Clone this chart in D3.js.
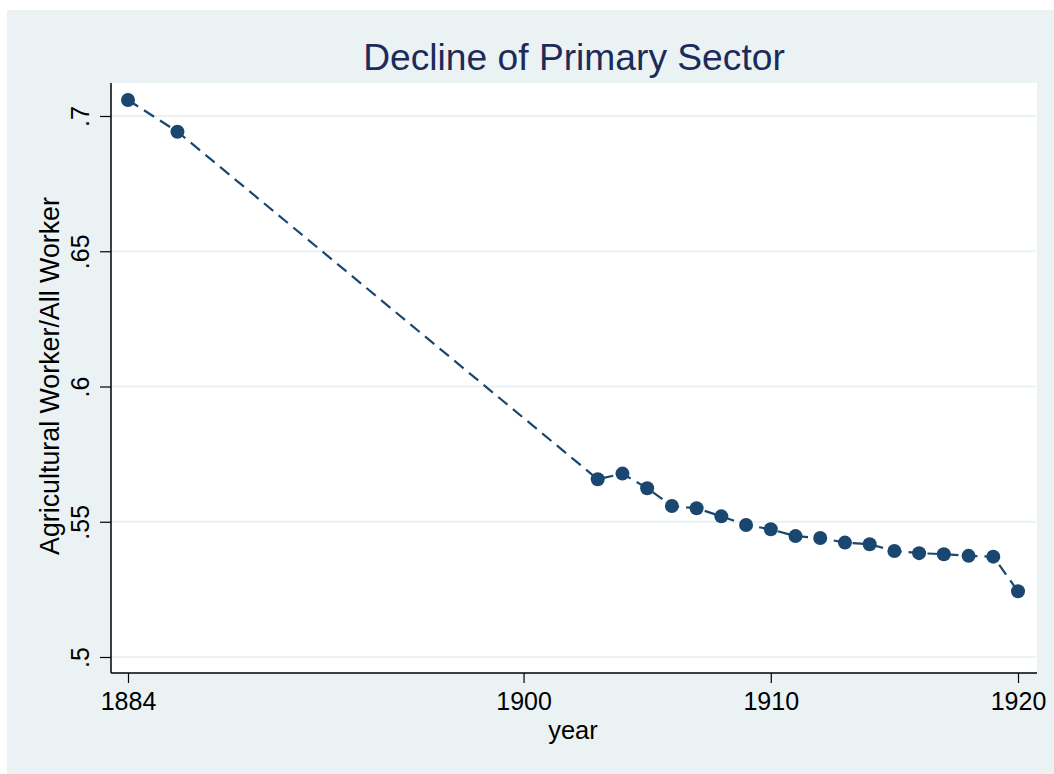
<!DOCTYPE html>
<html>
<head>
<meta charset="utf-8">
<script src="https://d3js.org/d3.v7.min.js"></script>
<style>
  body { margin: 0; background: #fff; }
  text { font-family: "Liberation Sans", Arial, Helvetica, sans-serif; }
</style>
</head>
<body>
<svg id="chart" width="1054" height="774"></svg>
<script>
// share of agricultural workers in all workers
var years = [1884, 1886, 1903, 1904, 1905, 1906, 1907, 1908, 1909, 1910,
             1911, 1912, 1913, 1914, 1915, 1916, 1917, 1918, 1919, 1920];
var share = [0.7059, 0.6942, 0.5657, 0.5678, 0.5624, 0.5558, 0.5550, 0.5520, 0.5488, 0.5472,
             0.5447, 0.5440, 0.5423, 0.5417, 0.5392, 0.5384, 0.5380, 0.5374, 0.5371, 0.5243];
var xTicks = [1884, 1900, 1910, 1920];
var yTicks = [0.5, 0.55, 0.6, 0.65, 0.7];

var data = years.map(function(y, i) { return {year: y, v: share[i]}; });

var svg = d3.select("#chart");

// outer graph region
svg.append("rect")
    .attr("x", 7).attr("y", 10)
    .attr("width", 1047).attr("height", 764)
    .attr("fill", "#eaf2f3");

// plot region
var plot = {left: 111, top: 83, right: 1037, bottom: 673};
svg.append("rect")
    .attr("x", plot.left).attr("y", plot.top)
    .attr("width", plot.right - plot.left).attr("height", plot.bottom - plot.top)
    .attr("fill", "#fff");

var x = d3.scaleLinear().domain([1884, 1920]).range([128, 1018]);
var y = d3.scaleLinear().domain([0.5, 0.7]).range([657, 116]);

function fmt(d) { return d3.format(".2~f")(d).replace(/^0/, ""); }

// gridlines
svg.append("g").selectAll("line")
    .data(yTicks).enter().append("line")
    .attr("x1", plot.left).attr("x2", plot.right - 1)
    .attr("y1", function(d) { return y(d); })
    .attr("y2", function(d) { return y(d); })
    .attr("stroke", "#eaf2f3").attr("stroke-width", 2);

// y axis
var yAxis = svg.append("g")
    .attr("transform", "translate(" + plot.left + ",0)")
    .call(d3.axisLeft(y).tickValues(yTicks).tickSize(11).tickSizeOuter(0).tickFormat(fmt));
yAxis.select(".domain").attr("d", "M0," + plot.top + "V" + plot.bottom)
    .attr("stroke", "#000").attr("stroke-width", 1.5);
yAxis.selectAll(".tick line").attr("stroke", "#000").attr("stroke-width", 1.2);
yAxis.selectAll(".tick text")
    .attr("x", 0).attr("dy", 0)
    .attr("transform", "translate(-22,0) rotate(-90)")
    .attr("text-anchor", "middle")
    .attr("font-size", 25).attr("fill", "#000")
    .attr("font-family", "Liberation Sans, Arial, sans-serif");

// x axis
var xAxis = svg.append("g")
    .attr("transform", "translate(0," + plot.bottom + ")")
    .call(d3.axisBottom(x).tickValues(xTicks).tickSize(10).tickSizeOuter(0).tickFormat(d3.format("d")));
xAxis.select(".domain").attr("d", "M" + plot.left + ",0H" + plot.right)
    .attr("stroke", "#000").attr("stroke-width", 1.5);
xAxis.selectAll(".tick line").attr("stroke", "#000").attr("stroke-width", 1.2);
xAxis.selectAll(".tick text")
    .attr("y", 37).attr("dy", 0)
    .attr("font-size", 25).attr("fill", "#000")
    .attr("font-family", "Liberation Sans, Arial, sans-serif");

// axis titles
svg.append("text")
    .attr("x", 573).attr("y", 739)
    .attr("text-anchor", "middle")
    .attr("font-size", 25.5)
    .text("year");

svg.append("text")
    .attr("transform", "translate(59,376) rotate(-90)")
    .attr("text-anchor", "middle")
    .attr("font-size", 26.8)
    .text("Agricultural Worker/All Worker");

// title
svg.append("text")
    .attr("x", 574).attr("y", 70)
    .attr("text-anchor", "middle")
    .attr("font-size", 37.2)
    .attr("fill", "#1c2b5a")
    .text("Decline of Primary Sector");

// dashed connecting line
var line = d3.line()
    .x(function(d) { return x(d.year); })
    .y(function(d) { return y(d.v); });

svg.append("path")
    .datum(data)
    .attr("d", line)
    .attr("fill", "none")
    .attr("stroke", "#1a476f")
    .attr("stroke-width", 2.2)
    .attr("stroke-dasharray", "12,7");

// markers
svg.append("g").selectAll("circle")
    .data(data).enter().append("circle")
    .attr("cx", function(d) { return x(d.year); })
    .attr("cy", function(d) { return y(d.v); })
    .attr("r", 7)
    .attr("fill", "#1a476f");
</script>
</body>
</html>
